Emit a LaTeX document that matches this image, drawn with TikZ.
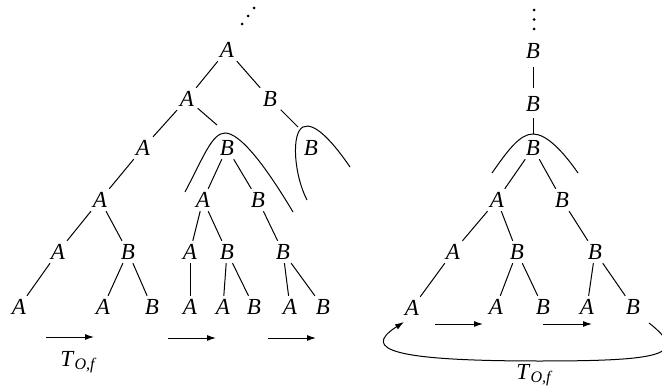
\documentclass[tikz,border=0pt]{standalone}
\usepackage{fontspec}
\setmainfont{Liberation Serif}
\usetikzlibrary{arrows.meta}
\begin{document}
\begin{tikzpicture}[x=0.5pt,y=-0.5pt,
  lab/.style={font=\fontsize{11.5}{13}\selectfont\itshape, inner sep=1.6pt, text height=7.6pt, text depth=0pt},
  edge/.style={line width=0.5pt},
  archline/.style={line width=0.5pt},
  flow/.style={line width=0.5pt,-{Latex[length=4.5pt,width=3pt]}},
  tlab/.style={font=\fontsize{11.5}{13}\selectfont, inner sep=1pt}]
\useasboundingbox (0,0) rectangle (662,389);
% ---------- left tree ----------
\node[lab] (la0) at (227,50) {A};
\node[lab] (la1) at (187,99) {A};
\node[lab] (lb1) at (270,99) {B};
\node[lab] (la2) at (143,148) {A};
\node[lab] (lb2) at (227,148) {B};
\node[lab] (lc2) at (311,148) {B};
\node[lab] (la3) at (100,200) {A};
\node[lab] (lb3) at (203,200) {A};
\node[lab] (lc3) at (258,200) {B};
\node[lab] (la4) at (58,252) {A};
\node[lab] (lb4) at (128,252) {B};
\node[lab] (lc4) at (190,252) {A};
\node[lab] (ld4) at (227,252) {B};
\node[lab] (le4) at (283,252) {B};
\node[lab] (la5) at (19,307) {A};
\node[lab] (lb5) at (103,307) {A};
\node[lab] (lc5) at (152,307) {B};
\node[lab] (ld5) at (190,307) {A};
\node[lab] (le5) at (223,307) {A};
\node[lab] (lf5) at (254,307) {B};
\node[lab] (lg5) at (290,307) {A};
\node[lab] (lh5) at (323,307) {B};
\coordinate (p1) at (217,125);
\coordinate (p2) at (298,127);
\draw[edge] (la0) -- (la1);
\draw[edge] (la0) -- (lb1);
\draw[edge] (la1) -- (la2);
\draw[edge] (la1) -- (p1);
\draw[edge] (lb1) -- (p2);
\draw[edge] (la2) -- (la3);
\draw[edge] (lb2) -- (lb3);
\draw[edge] (lb2) -- (lc3);
\draw[edge] (la3) -- (la4);
\draw[edge] (la3) -- (lb4);
\draw[edge] (lb3) -- (lc4);
\draw[edge] (lb3) -- (ld4);
\draw[edge] (lc3) -- (le4);
\draw[edge] (la4) -- (la5);
\draw[edge] (lb4) -- (lb5);
\draw[edge] (lb4) -- (lc5);
\draw[edge] (lc4) -- (ld5);
\draw[edge] (ld4) -- (le5);
\draw[edge] (ld4) -- (lf5);
\draw[edge] (le4) -- (lg5);
\draw[edge] (le4) -- (lh5);
% arches
\draw[archline] (185,192) .. controls (203,158) and (212,133) .. (225,133)
  .. controls (240,133) and (265,165) .. (293,212);
\draw[archline] (307,200) .. controls (294,175) and (291,133) .. (303,127)
  .. controls (315,121) and (335,145) .. (350,167);
% dots
\fill (242,24) circle (0.75pt);
\fill (248,16) circle (0.75pt);
\fill (254,8) circle (0.75pt);
% arrows
\coordinate (f1s) at (46,337); \coordinate (f1e) at (94,337);
\coordinate (f2s) at (168,338); \coordinate (f2e) at (216,338);
\coordinate (f3s) at (268,338); \coordinate (f3e) at (316,338);
\draw[flow] (f1s) -- (f1e);
\draw[flow] (f2s) -- (f2e);
\draw[flow] (f3s) -- (f3e);
\node[tlab] (t1) at (79,362) {\textit{T}\textsubscript{\textit{O,f}}};
% ---------- right tree ----------
\node[lab] (ra0) at (533,51) {B};
\node[lab] (ra1) at (533,104) {B};
\node[lab] (ra2) at (533,148) {B};
\node[lab] (ra3) at (497,200) {A};
\node[lab] (rb3) at (562,200) {B};
\node[lab] (ra4) at (453,252) {A};
\node[lab] (rb4) at (517,252) {B};
\node[lab] (rc4) at (595,252) {B};
\node[lab] (ra5) at (412,308) {A};
\node[lab] (rb5) at (496,307) {A};
\node[lab] (rc5) at (543,307) {B};
\node[lab] (rd5) at (587,307) {A};
\node[lab] (re5) at (633,307) {B};
\coordinate (rp) at (533,134);
\draw[edge, shorten <=2.5pt, shorten >=2.5pt] (ra0) -- (ra1);
\draw[edge, shorten <=1.5pt] (ra1) -- (rp);
\draw[edge] (ra2) -- (ra3);
\draw[edge] (ra2) -- (rb3);
\draw[edge] (ra3) -- (ra4);
\draw[edge] (ra3) -- (rb4);
\draw[edge] (rb3) -- (rc4);
\draw[edge] (ra4) -- (ra5);
\draw[edge] (rb4) -- (rb5);
\draw[edge] (rb4) -- (rc5);
\draw[edge] (rc4) -- (rd5);
\draw[edge] (rc4) -- (re5);
\draw[archline] (492,173) .. controls (508,150) and (520,134) .. (533,134)
  .. controls (546,134) and (562,150) .. (578,173);
\fill (534,10) circle (0.75pt);
\fill (534,19.5) circle (0.75pt);
\fill (534,29) circle (0.75pt);
\coordinate (g1s) at (435,324); \coordinate (g1e) at (483,324);
\coordinate (g2s) at (543,324); \coordinate (g2e) at (592,324);
\draw[flow] (g1s) -- (g1e);
\draw[flow] (g2s) -- (g2e);
\coordinate (ls) at (649,323);
\coordinate (le) at (404,322);
\draw[flow] (ls) .. controls (690,355) and (662,361) .. (540,361)
  .. controls (395,361) and (360,350) .. (le);
\node[tlab] (t2) at (535,375) {\textit{T}\textsubscript{\textit{O,f}}};
\end{tikzpicture}
\end{document}
